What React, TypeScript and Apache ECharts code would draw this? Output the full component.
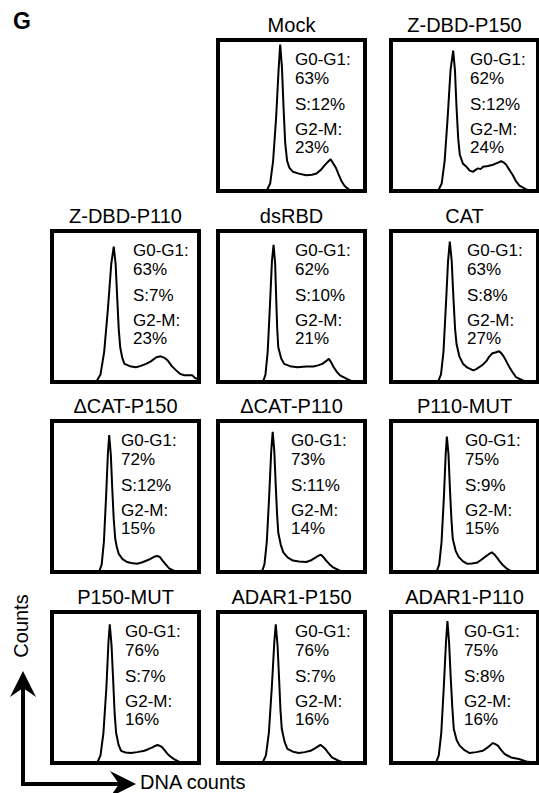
import React, { useEffect, useRef } from "react";
import * as echarts from "echarts";

// ---- Data ----
const panelNames = [
  "Mock", "Z-DBD-P150",
  "Z-DBD-P110", "dsRBD", "CAT",
  "ΔCAT-P150", "ΔCAT-P110", "P110-MUT",
  "P150-MUT", "ADAR1-P150", "ADAR1-P110",
];
const g0g1Pct = [63, 62, 63, 62, 63, 72, 73, 75, 76, 76, 75];
const sPct = [12, 12, 7, 10, 8, 12, 11, 9, 7, 7, 8];
const g2mPct = [23, 24, 23, 21, 27, 15, 14, 15, 16, 16, 16];

// histogram traces: [DNA content (% of panel width), counts (% of panel height)]
const curveMock = [[0,0],[33,0],[35.5,5],[37.5,20],[39.5,48],[41.2,80],[42.3,97],[43.5,82],[44.6,55],[45.7,32],[47,20],[48.5,15.5],[51,12.7],[55,11.5],[60,10.4],[64,10.8],[67,11.6],[70,14],[72.5,17],[75,19.5],[76.6,21],[78.5,18],[80.4,15],[82,11],[83.8,7],[86,3.5],[89,1],[92,0],[100,0]];
const curveZP150 = [[0,0],[32,0],[34.5,5],[36.5,20],[38.5,48],[40.5,80],[42.3,93],[43.5,80],[44.6,55],[45.7,35],[46.8,24],[49,18],[51.4,16],[53.5,13.5],[55.9,12.7],[57.5,14],[59.2,15],[61,14.5],[62.6,16],[66,16.5],[69.4,17.4],[72,18.5],[75,19.7],[76.5,19],[78.4,17.4],[80.5,14],[82.9,10.4],[85,6.5],[87.4,3.5],[92,1],[96,0],[100,0]];
const curveZP110 = [[0,0],[30,0],[33,5],[35.5,20],[38,48],[40.3,78],[42,89.7],[43.3,78],[44.4,55],[45.4,35],[46.4,23],[47.8,16],[49.3,12],[53,10.5],[57,9.8],[60,10.5],[64,12],[67,13.5],[71,16.4],[74,17],[76.5,16],[78.9,14],[81.5,10.5],[84.5,7.7],[87,5.5],[90,4.4],[95.5,4.4],[97.5,2.5],[100,2]];
const curveDsRBD = [[0,0],[30.6,0],[32.3,5],[33.8,20],[35.3,50],[36.7,80],[37.8,90.8],[38.9,78],[39.6,55],[40.3,35],[41,23],[43,15.5],[45,12],[49,10.5],[54,9.8],[60,10.3],[65,10.3],[68,11],[71,12],[73.5,13.8],[75.4,15.3],[77,13],[78.7,9.8],[81,6.5],[83,4.4],[87.7,2],[92,0],[100,0]];
const curveCAT = [[0,0],[32,0],[34,5],[35.7,20],[37.3,50],[38.8,80],[40,93],[41.3,80],[42.5,55],[43.6,35],[44.6,25],[46.5,17],[49,12],[52,9.5],[56,7.7],[58,8.5],[60,9.8],[62.5,11.5],[65,14],[67,17],[69,19],[71,19.5],[73.6,20.4],[75.5,18.5],[77,16.4],[78.8,13],[80.6,9.8],[83,6],[85,3.3],[89.6,1],[94,0],[100,0]];
const curveDCatP150 = [[0,0],[32,0],[33.8,5],[35.3,20],[36.8,50],[38,78],[38.9,90.6],[40,78],[41,55],[42,35],[43,22],[44.2,16],[45.4,12],[48,8.5],[51,6.6],[54,6],[57.8,5.5],[61,6.3],[64.5,7.6],[67,8.7],[70,10.3],[71.8,10.6],[73.5,9.8],[75.2,7.6],[76.9,5.5],[78.5,3.7],[80,2.2],[84.7,0],[100,0]];
const curveDCatP110 = [[0,0],[29.8,0],[31.6,5],[33.2,20],[34.8,50],[36.2,80],[37.2,92.8],[38.3,80],[39.3,57],[40.2,38],[41,26],[42.7,18],[44.4,13],[47.5,9.5],[51,7.6],[55,7],[60,6.6],[63.5,7.8],[66.8,9.8],[68.5,10.8],[70,11.4],[71.8,9.8],[73.5,7.6],[75.8,5.2],[78,3.3],[82.5,1],[86,0],[100,0]];
const curveP110Mut = [[0,0],[31,0],[32.8,5],[34.4,20],[36,50],[37.2,78],[38,89.7],[39.1,78],[40.1,55],[41.1,35],[42,22],[44,14],[46,10],[48.8,7.2],[51.6,5.5],[55,5.6],[58.3,6.1],[61,7.8],[64,10],[66.5,11.8],[68.6,13],[70.2,11.8],[71.7,10],[74,7],[76.2,4.4],[78.5,2.5],[80.7,1],[85,0],[100,0]];
const curveP150Mut = [[0,0],[30.7,0],[33,5],[35,20],[37,50],[38.4,80],[39.3,91.8],[40.5,78],[41.6,55],[42.6,33],[43.6,20],[45.3,12],[47,8],[50,7],[53.7,6.6],[58,7.2],[62.8,8.1],[65.8,9.3],[68.4,10.4],[70,11.3],[71.8,11.9],[73.5,11.3],[75,10.4],[76.8,8.2],[78.6,6],[81,4],[83,2.6],[87,0.5],[100,0]];
const curveAdarP150 = [[0,0],[30.3,0],[32.6,5],[34.6,20],[36.6,50],[38.3,80],[39.3,91.8],[40.5,78],[41.6,55],[42.5,35],[43.4,22.5],[45.3,14],[47.2,9.3],[51,7.5],[55,6.6],[59,7.2],[63,8.1],[66.5,10],[69.7,12],[71.4,10.8],[73,9.3],[75.3,6.3],[77.5,3.7],[82,1.5],[86,0],[100,0]];
const curveAdarP110 = [[0,0],[30.5,0],[32.5,5],[34.2,20],[35.9,50],[37.4,80],[38.4,94],[39.5,80],[40.6,57],[41.7,37],[42.7,22.5],[44.7,15],[46.7,11.5],[50,8.5],[53.5,6.6],[58,7.2],[62.5,8.1],[66,10.5],[69.3,13.2],[71,12.5],[72.7,11.5],[75,8.5],[77.2,6],[79.5,4.8],[81.7,3.7],[87,2.6],[92,1],[100,0]];

const curves = [
  curveMock, curveZP150,
  curveZP110, curveDsRBD, curveCAT,
  curveDCatP150, curveDCatP110, curveP110Mut,
  curveP150Mut, curveAdarP150, curveAdarP110,
];

const axisYLabel = "Counts";
const axisXLabel = "DNA counts";
const panelLetter = "G";

// ---- Layout (positions / sizes) ----
const W = 539;
const H = 793;
const colLeft = [50, 216, 389];
const rowTop = [38, 229, 419, 610];
const boxW = 151;
const boxH = 155;
const panelCell = [
  [0, 1], [0, 2],
  [1, 0], [1, 1], [1, 2],
  [2, 0], [2, 1], [2, 2],
  [3, 0], [3, 1], [3, 2],
];
const textOffsetX = [79, 81, 83, 79, 78, 71, 75, 76, 75, 79, 75];
const textLineY = [21, 40, 66, 91, 109];
const FONT = "Liberation Sans";

export default function App() {
  const ref = useRef<HTMLDivElement | null>(null);

  useEffect(() => {
    if (!ref.current) return;
    const chart = echarts.init(ref.current, null, { renderer: "svg" });

    const grids: any[] = [];
    const xAxes: any[] = [];
    const yAxes: any[] = [];
    const series: any[] = [];
    const graphics: any[] = [];

    panelNames.forEach((name, i) => {
      const [r, c] = panelCell[i];
      const L = colLeft[c];
      const T = rowTop[r];
      grids.push({
        left: L + 2,
        top: T + 2,
        width: boxW - 4,
        height: boxH - 4,
        show: true,
        borderColor: "#000",
        borderWidth: 4,
        backgroundColor: "#fff",
        containLabel: false,
      });
      xAxes.push({ type: "value", gridIndex: i, min: 0, max: 100, show: false });
      yAxes.push({ type: "value", gridIndex: i, min: 0, max: 100, show: false });
      series.push({
        type: "line",
        xAxisIndex: i,
        yAxisIndex: i,
        data: curves[i],
        showSymbol: false,
        symbol: "none",
        lineStyle: { color: "#000", width: 2 },
        clip: true,
        silent: true,
      });

      graphics.push({
        type: "text",
        x: L + boxW / 2,
        y: T - 13.5,
        style: {
          text: name,
          fontSize: 20,
          fontFamily: FONT,
          fill: "#000",
          align: "center",
          verticalAlign: "middle",
        },
      });

      const lines = [
        "G0-G1:",
        `${g0g1Pct[i]}%`,
        `S:${sPct[i]}%`,
        "G2-M:",
        `${g2mPct[i]}%`,
      ];
      lines.forEach((t, k) => {
        graphics.push({
          type: "text",
          x: L + textOffsetX[i],
          y: T + textLineY[k],
          style: {
            text: t,
            fontSize: 17,
            fontFamily: FONT,
            fill: "#000",
            align: "left",
            verticalAlign: "middle",
          },
        });
      });
    });

    // Panel letter
    graphics.push({
      type: "text",
      x: 13,
      y: 21,
      style: {
        text: panelLetter,
        fontSize: 23,
        fontWeight: "bold",
        fontFamily: FONT,
        fill: "#000",
        align: "left",
        verticalAlign: "middle",
      },
    });

    // Axis arrows
    graphics.push({
      type: "polyline",
      shape: { points: [[23, 686], [23, 784], [121, 784]] },
      style: { stroke: "#000", lineWidth: 4, fill: "none", lineJoin: "miter" },
    });
    graphics.push({
      type: "polygon",
      shape: { points: [[23, 671], [36, 697], [23, 688], [10, 697]] },
      style: { fill: "#000" },
    });
    graphics.push({
      type: "polygon",
      shape: { points: [[136, 784], [110, 771], [119, 784], [110, 797]] },
      style: { fill: "#000" },
    });
    graphics.push({
      type: "text",
      x: 140,
      y: 782,
      style: {
        text: axisXLabel,
        fontSize: 20,
        fontFamily: FONT,
        fill: "#000",
        align: "left",
        verticalAlign: "middle",
      },
    });
    graphics.push({
      type: "text",
      x: 21,
      y: 626,
      rotation: Math.PI / 2,
      style: {
        text: axisYLabel,
        fontSize: 20,
        fontFamily: FONT,
        fill: "#000",
        align: "center",
        verticalAlign: "middle",
      },
    });

    chart.setOption({
      animation: false,
      backgroundColor: "#fff",
      grid: grids,
      xAxis: xAxes,
      yAxis: yAxes,
      series,
      graphic: { elements: graphics },
    });

    return () => {
      chart.dispose();
    };
  }, []);

  return (
    <div
      ref={ref}
      style={{ position: "absolute", left: 0, top: 0, width: W, height: H, background: "#fff" }}
    />
  );
}
